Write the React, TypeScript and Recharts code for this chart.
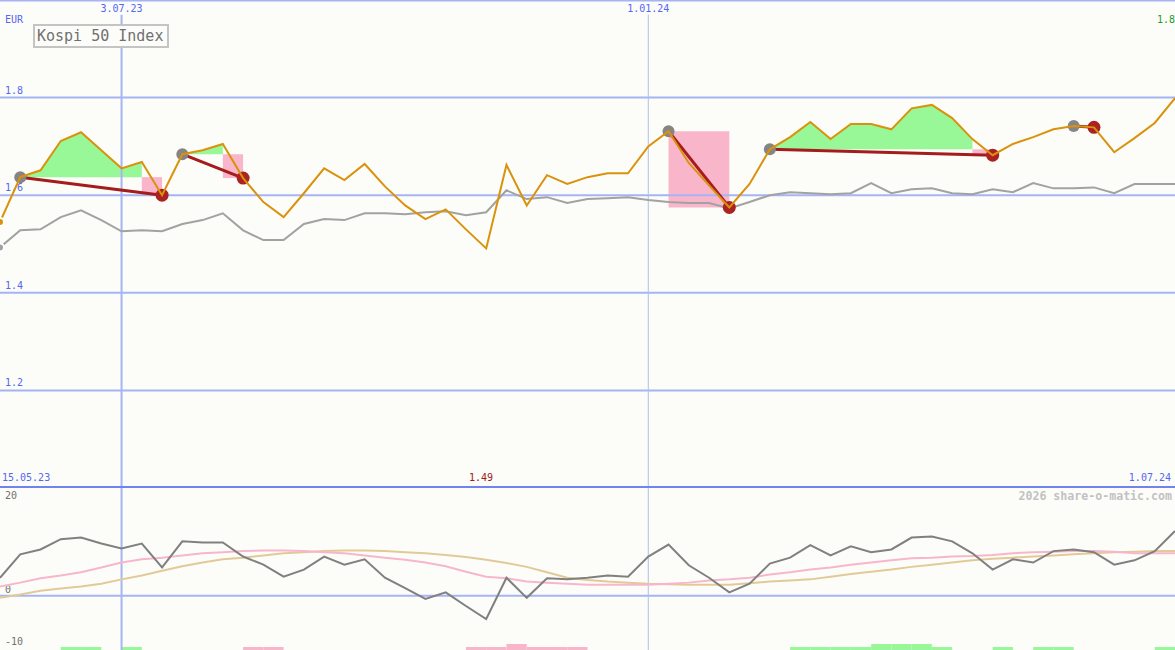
import React from "react"
import {
  Area,
  ComposedChart,
  Line,
  ReferenceArea,
  ReferenceLine,
  XAxis,
  YAxis,
} from "recharts"

// weekly points, 0 = first week shown, 58 = 1.07.24
const lastIndex = 58

const price = [
  1.545, 1.637, 1.651, 1.711, 1.729, 1.692, 1.655, 1.668, 1.6, 1.684,
  1.692, 1.705, 1.635, 1.586, 1.555, 1.604, 1.655, 1.631, 1.664, 1.618,
  1.579, 1.551, 1.571, 1.53, 1.491, 1.662, 1.579, 1.641, 1.623, 1.637,
  1.645, 1.645, 1.7, 1.731, 1.666, 1.62, 1.575, 1.623, 1.694, 1.719,
  1.75, 1.715, 1.746, 1.746, 1.735, 1.778, 1.785, 1.758, 1.715, 1.682,
  1.705, 1.719, 1.735, 1.742, 1.739, 1.688, 1.717, 1.748, 1.799,
]

const compare = [
  1.493, 1.528, 1.53, 1.555, 1.569, 1.549, 1.526, 1.528, 1.526, 1.541,
  1.549, 1.563, 1.528, 1.508, 1.508, 1.541, 1.551, 1.549, 1.563, 1.563,
  1.561, 1.565, 1.567, 1.559, 1.565, 1.61, 1.592, 1.596, 1.584, 1.592,
  1.594, 1.596, 1.59, 1.586, 1.584, 1.584, 1.573, 1.586, 1.6, 1.606,
  1.604, 1.602, 1.604, 1.625, 1.604, 1.612, 1.614, 1.604, 1.602, 1.612,
  1.606, 1.625, 1.614, 1.614, 1.616, 1.604, 1.623, 1.623, 1.623,
]

const momentum = [
  3.3, 7.6, 8.5, 10.4, 10.7, 9.6, 8.7, 9.6, 5.2, 10.0,
  9.8, 9.8, 7.2, 5.7, 3.5, 4.8, 7.2, 5.7, 6.7, 3.3,
  1.4, -0.6, 0.6, -1.9, -4.3, 3.3, -0.4, 3.2, 3.0, 3.3,
  3.7, 3.5, 7.2, 9.4, 5.6, 3.3, 0.6, 2.2, 5.9, 7.0,
  9.3, 7.4, 9.1, 8.0, 8.5, 10.7, 10.9, 10.0, 7.8, 4.8,
  6.7, 6.1, 8.2, 8.5, 8.0, 5.7, 6.5, 8.2, 11.9,
]

const fastAvg = [
  1.7, 2.4, 3.2, 3.7, 4.3, 5.2, 6.1, 6.7, 7.0, 7.4,
  7.8, 8.0, 8.2, 8.3, 8.3, 8.2, 8.0, 7.8, 7.4, 7.0,
  6.6, 6.1, 5.4, 4.4, 3.5, 3.2, 2.6, 2.4, 2.2, 2.0,
  2.0, 2.0, 2.0, 2.2, 2.4, 2.8, 3.0, 3.3, 3.9, 4.3,
  4.8, 5.2, 5.7, 6.1, 6.5, 6.9, 7.0, 7.2, 7.3, 7.5,
  7.8, 8.0, 8.1, 8.2, 8.2, 8.1, 7.8, 7.8, 7.8,
]

const slowAvg = [
  -0.4, 0.2, 0.9, 1.3, 1.7, 2.2, 3.0, 3.7, 4.6, 5.4,
  6.1, 6.7, 7.0, 7.4, 7.8, 8.0, 8.2, 8.3, 8.3, 8.2,
  8.0, 7.8, 7.5, 7.1, 6.6, 6.0, 5.3, 4.3, 3.3, 2.9,
  2.6, 2.4, 2.2, 2.1, 2.0, 2.0, 2.0, 2.3, 2.6, 2.8,
  3.0, 3.5, 4.0, 4.4, 4.8, 5.3, 5.7, 6.1, 6.5, 6.8,
  7.0, 7.2, 7.4, 7.6, 7.8, 8.0, 8.1, 8.2, 8.2,
]

// +1 / +2 buy strength, -1 / -2 sell strength, per week
const signal = [
  0, 0, 0, 1, 1, 0, 1, 0, 0, 0,
  0, 0, -1, -1, 0, 0, 0, 0, 0, 0,
  0, 0, 0, -1, -1, -2, -1, -1, -1, 0,
  0, 0, 0, 0, 0, 0, 0, 0, 0, 1,
  1, 1, 1, 2, 2, 2, 1, 0, 0, 1,
  0, 1, 1, 0, 0, 0, 0, 1, 0,
]

const swingHighs = [1, 9, 33, 38, 53]
const swingLows = [8, 12, 36, 49, 54]

const priceTicks = [1.2, 1.4, 1.6, 1.8]
const oscTicks = [20, 0, -10]
const dateMarks = [
  { i: 6, label: "3.07.23" },
  { i: 32, label: "1.01.24" },
]
const markWidths = [2, 1]

const W = 1175
const TOP_H = 488
const BOT_H = 163
const font = "'DejaVu Sans Mono', monospace"
const bg = "#fcfdf9"
const gridBlue = "#a6b4f4"
const labelBlue = "#5566f2"

const swings = swingHighs.map((h, k) => {
  const lo = swingLows[k]
  const level = price[h]
  let end = h
  while (end + 1 < lo && price[end + 1] >= level) end++
  return { h, lo, level, end }
})

const rows = price.map((p, i) => {
  const row: Record<string, any> = {
    i,
    price: p,
    compare: compare[i],
    mom: momentum[i],
    fast: fastAvg[i],
    slow: slowAvg[i],
  }
  const s = swings.find((s) => i >= s.h && i <= s.end)
  row.band = s ? [s.level, p] : null
  swings.forEach((s, k) => {
    row[`link${k}`] = i === s.h || i === s.lo ? p : null
  })
  row.hi = swingHighs.includes(i) ? p : null
  row.lo = swingLows.includes(i) ? p : null
  return row
})

// label drawn at the left end of a horizontal line
const LeftLabel = (props: any) => {
  const vb = props.viewBox || {}
  return (
    <text x={(vb.x || 0) + 5} y={(vb.y || 0) + props.dy} fill={props.color} fontSize={10} fontFamily={font}>
      {props.text}
    </text>
  )
}

// label on top of a vertical date line
const TopLabel = (props: any) => {
  const vb = props.viewBox || {}
  return (
    <text x={vb.x || 0} y={12} fill={labelBlue} fontSize={10} fontFamily={font} textAnchor="middle">
      {props.text}
    </text>
  )
}

const txt = (extra: React.CSSProperties): React.CSSProperties => ({
  position: "absolute",
  fontFamily: font,
  fontSize: 10,
  lineHeight: "10px",
  whiteSpace: "nowrap",
  ...extra,
})

export default function App() {
  return (
    <div style={{ position: "relative", width: W, height: 650, background: bg, overflow: "hidden" }}>
      <style>{"body{margin:0}"}</style>
      <div style={{ position: "absolute", left: 0, top: 0 }}>
        <ComposedChart width={W} height={TOP_H} data={rows} margin={{ top: 0, right: 0, bottom: 0, left: 0 }}>
          <XAxis type="number" dataKey="i" domain={[0, lastIndex]} hide />
          <YAxis type="number" domain={[1, 2]} hide />
          <ReferenceLine y={2} stroke={gridBlue} strokeWidth={3} />
          {priceTicks.map((v) => (
            <ReferenceLine
              key={v}
              y={v}
              stroke={gridBlue}
              strokeWidth={2}
              label={<LeftLabel text={v.toFixed(1)} dy={-4} color={labelBlue} />}
            />
          ))}
          {dateMarks.map((d, k) => (
            <ReferenceLine
              key={d.label}
              segment={[{ x: d.i, y: 1 }, { x: d.i, y: 1.97 }]}
              stroke={k === 0 ? gridBlue : "#b0bce8"}
              strokeWidth={markWidths[k]}
              label={<TopLabel text={d.label} />}
            />
          ))}
          {swings.map((s) => (
            <ReferenceArea
              key={s.h}
              x1={s.end}
              x2={s.lo}
              y1={price[s.lo]}
              y2={s.level}
              fill="#f9b6ca"
              fillOpacity={1}
              stroke="none"
            />
          ))}
          <Area
            dataKey="band"
            type="linear"
            fill="#98f898"
            fillOpacity={1}
            stroke="none"
            connectNulls={false}
            isAnimationActive={false}
          />
          <Line dataKey="compare" type="linear" stroke="#a2a2a2" strokeWidth={2} dot={false} isAnimationActive={false} />
          {swings.map((s, k) => (
            <Line
              key={`link${k}`}
              dataKey={`link${k}`}
              type="linear"
              connectNulls
              stroke="#a41c1c"
              strokeWidth={3}
              dot={false}
              isAnimationActive={false}
            />
          ))}
          <Line
            dataKey="hi"
            stroke="none"
            dot={{ r: 6, fill: "#858585", stroke: "none" }}
            activeDot={false}
            isAnimationActive={false}
          />
          <Line
            dataKey="lo"
            stroke="none"
            dot={{ r: 6.5, fill: "#aa2222", stroke: "none" }}
            activeDot={false}
            isAnimationActive={false}
          />
          <Line
            dataKey="price"
            type="linear"
            stroke="#da920c"
            strokeWidth={2}
            dot={false}
            zIndex={700}
            isAnimationActive={false}
          />
        </ComposedChart>
      </div>

      <div style={{ position: "absolute", left: 0, top: 487 }}>
        <ComposedChart width={W} height={BOT_H} data={rows} margin={{ top: 0, right: 0, bottom: 0, left: 0 }}>
          <XAxis type="number" dataKey="i" domain={[0, lastIndex]} hide />
          <YAxis type="number" domain={[-10, 20]} hide />
          {oscTicks.map((v) => (
            <ReferenceLine
              key={v}
              y={v}
              stroke={v === 0 ? gridBlue : "none"}
              strokeWidth={2}
              label={<LeftLabel text={String(v)} dy={v === 20 ? 12 : v === 0 ? -3 : -5} color="#707070" />}
            />
          ))}
          {dateMarks.map((d, k) => (
            <ReferenceLine key={d.label} x={d.i} stroke={k === 0 ? gridBlue : "#b0bce8"} strokeWidth={markWidths[k]} />
          ))}
          {signal.map((s, i) =>
            s === 0 ? null : (
              <ReferenceArea
                key={i}
                x1={i}
                x2={i + 1}
                y1={-10}
                y2={-10 + Math.abs(s) * 0.55}
                fill={s > 0 ? "#98f898" : "#f9b6ca"}
                fillOpacity={1}
                stroke="none"
              />
            )
          )}
          <Line dataKey="slow" type="linear" stroke="#e2ca98" strokeWidth={2} dot={false} isAnimationActive={false} />
          <Line dataKey="fast" type="linear" stroke="#f8b6cc" strokeWidth={2} dot={false} isAnimationActive={false} />
          <Line dataKey="mom" type="linear" stroke="#808080" strokeWidth={2} dot={false} isAnimationActive={false} />
        </ComposedChart>
      </div>

      <div style={{ position: "absolute", left: 0, top: 486, width: W, height: 2, background: "#7282f0" }} />

      <div style={txt({ left: 5, top: 15, color: labelBlue })}>EUR</div>
      <div
        style={txt({
          left: 33,
          top: 24,
          width: 130,
          height: 20,
          border: "2px solid #c4c4c4",
          background: bg,
          color: "#707070",
          fontSize: 15,
          lineHeight: "20px",
          paddingLeft: 2,
          boxSizing: "content-box",
        })}
      >
        Kospi 50 Index
      </div>
      <div style={txt({ right: 0, top: 15, color: "#229a22" })}>1.8</div>
      <div style={txt({ left: 2, top: 473, color: labelBlue })}>15.05.23</div>
      <div style={txt({ left: 469, top: 473, color: "#a01818" })}>1.49</div>
      <div style={txt({ right: 4, top: 473, color: labelBlue })}>1.07.24</div>
      <div style={txt({ right: 3, top: 490, color: "#c2c2c2", fontSize: 11.6, fontWeight: "bold", lineHeight: "12px" })}>
        2026 share-o-matic.com
      </div>
    </div>
  )
}
